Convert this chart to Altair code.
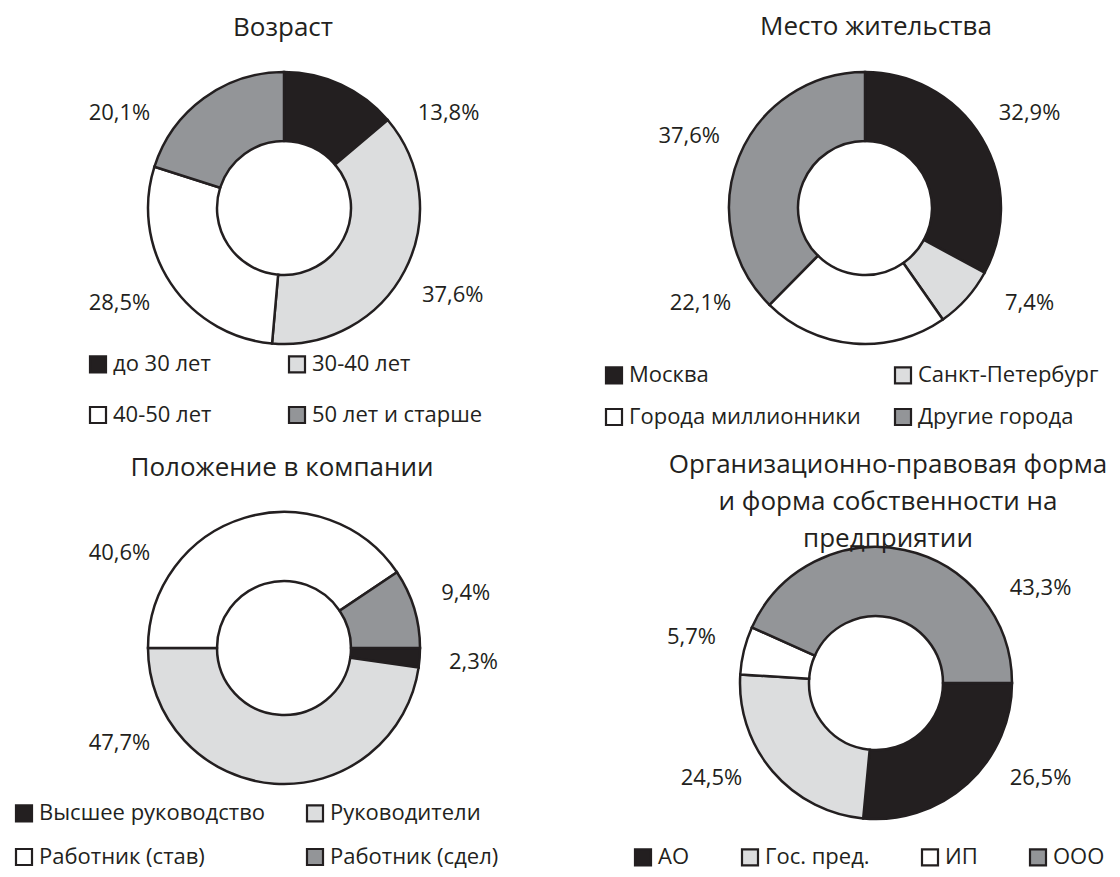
import math
import pandas as pd
import altair as alt

FONT = "Open Sans"
INK = "#231f20"
COLORS = ["#231f20", "#dcddde", "#ffffff", "#939598"]

# ---- data ----
age_title = "Возраст"
age_cats = ["до 30 лет", "30-40 лет", "40-50 лет", "50 лет и старше"]
age_vals = [13.8, 37.6, 28.5, 20.1]

city_title = "Место жительства"
city_cats = ["Москва", "Санкт-Петербург", "Города миллионники", "Другие города"]
city_vals = [32.9, 7.4, 22.1, 37.6]

pos_title = "Положение в компании"
pos_cats = ["Высшее руководство", "Руководители", "Работник (став)", "Работник (сдел)"]
pos_vals = [2.3, 47.7, 40.6, 9.4]

org_title = ["Организационно-правовая форма", "и форма собственности на", "предприятии"]
org_cats = ["АО", "Гос. пред.", "ИП", "ООО"]
org_vals = [26.5, 24.5, 5.7, 43.3]


def fmt(v):
    return f"{v:.1f}".replace(".", ",") + "%"


def label_angles(vals, start):
    """Mid-angle of each slice, pushed into the side sectors (best-fit style)."""
    total = sum(vals)
    out, cum = [], 0.0
    for v in vals:
        mid = math.degrees(start) + 360.0 * (cum + v / 2) / total
        cum += v
        d = mid % 360.0
        if d < 180:
            d = min(max(d, 60.0), 120.0)
        else:
            d = min(max(d, 240.0), 300.0)
        out.append(math.radians(d))
    return out


def donut(cats, vals, cx, cy, start, legend):
    df = pd.DataFrame({
        "cat": cats,
        "val": vals,
        "idx": list(range(len(cats))),
        "label": [fmt(v) for v in vals],
        "ang": label_angles(vals, start),
    })
    arc = alt.Chart(df).mark_arc(
        x=cx, y=cy, outerRadius=136, innerRadius=67,
        stroke=INK, strokeWidth=2.5
    ).encode(
        theta=alt.Theta("val:Q", stack=True,
                        scale=alt.Scale(range=[start, start + 2 * math.pi])),
        color=alt.Color("cat:N", scale=alt.Scale(domain=cats, range=COLORS),
                        legend=legend),
        order=alt.Order("idx:Q"),
    )
    text = alt.Chart(df).mark_text(
        x=cx, y=cy, radius=190, font=FONT, fontSize=22, color=INK
    ).encode(
        theta=alt.Theta("ang:Q", scale=None),
        text="label:N",
    )
    return alt.layer(arc, text)


def leg(x, y, cols, colpad, rowpad):
    return alt.Legend(
        orient="none", legendX=x, legendY=y, columns=cols,
        direction="horizontal",
        columnPadding=colpad, rowPadding=rowpad, title=None,
        symbolType="square", symbolSize=256, symbolStrokeColor=INK,
        symbolStrokeWidth=2.2, labelFont=FONT, labelFontSize=22,
        labelColor=INK, labelOffset=4, labelLimit=400, padding=0,
    )


def title_layer(txt, x, y, size=26):
    props = dict(x=x, y=y, font=FONT, fontSize=size, color=INK,
                 baseline="middle", align="center")
    if isinstance(txt, list):
        props["lineHeight"] = 37
    return alt.Chart(pd.DataFrame({"t": [0]})).mark_text(**props).encode(
        text=alt.value(txt))


p1 = donut(age_cats, age_vals, 276, 200, 0.0, leg(79, 345, 2, 72, 25))
p2 = donut(city_cats, city_vals, 857, 200, 0.0, leg(595, 356, 2, 29, 16))
p3 = donut(pos_cats, pos_vals, 276, 640, math.pi / 2, leg(5, 794, 2, 37, 18))
p4 = donut(org_cats, org_vals, 868, 675, math.pi / 2, leg(624, 838, 4, 47, 10))

t1 = title_layer(age_title, 275, 20)
t2 = title_layer(city_title, 868, 19)
t3 = title_layer(pos_title, 274, 460)
t4 = title_layer(org_title, 880, 457)

chart = alt.layer(p1, p2, p3, p4, t1, t2, t3, t4).resolve_scale(
    theta="independent", color="independent"
).properties(
    width=1104, height=861, padding=0,
    autosize=alt.AutoSizeParams(type="none"),
).configure_view(stroke=None)

chart.save("out.html", embed_options={"renderer": "svg", "actions": False})
